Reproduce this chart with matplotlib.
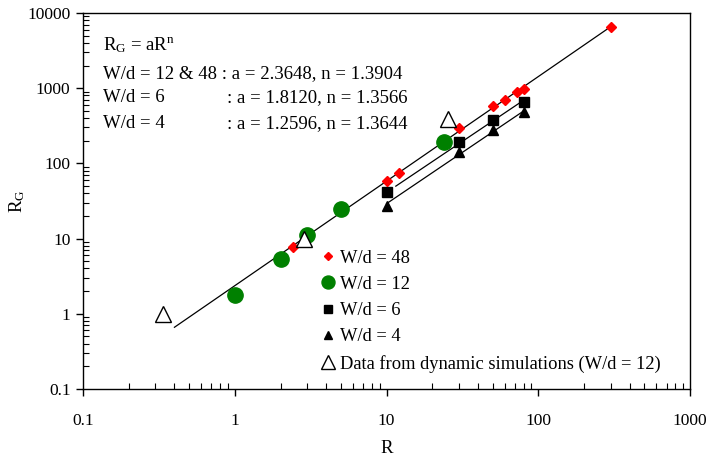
import numpy as np
import matplotlib
matplotlib.use("Agg")
import matplotlib.pyplot as plt
from matplotlib.ticker import LogLocator, FixedLocator, FixedFormatter, NullFormatter

plt.rcParams['font.family'] = ['Liberation Serif', 'DejaVu Serif']
plt.rcParams['mathtext.fontset'] = 'custom'
plt.rcParams['mathtext.rm'] = 'Liberation Serif'
plt.rcParams['mathtext.it'] = 'Liberation Serif:italic'

# ── data ──
r_48 = [2.4, 10, 12, 30, 50, 60, 72, 80, 300]
rg_48 = [7.8, 59, 75, 295, 580, 700, 900, 960, 6500]

r_12 = [1, 2, 3, 5, 24]
rg_12 = [1.8, 5.3, 11, 25, 195]

r_6 = [10, 30, 50, 80]
rg_6 = [42, 190, 380, 660]

r_4 = [10, 30, 50, 80]
rg_4 = [27.5, 140, 275, 480]

r_dyn = [0.335, 2.85, 25.5]
rg_dyn = [1.0, 9.8, 390]

# fitted power laws RG = a * R^n, with the R range each line covers
fits = {
    "12 & 48": (2.3648, 1.3904, 0.4, 300),
    "6": (1.8120, 1.3566, 11.5, 80),
    "4": (1.2596, 1.3644, 10, 80),
}

FS = 13.5

fig = plt.figure(figsize=(7.1, 4.58), dpi=100)
ax = fig.add_axes([0.117, 0.1507, 0.855, 0.821])

for key, (a, n, r0, r1) in fits.items():
    rr = np.logspace(np.log10(r0), np.log10(r1), 100)
    ax.plot(rr, a * rr ** n, color="black", lw=0.9, zorder=1)

ax.plot(r_48, rg_48, ls="none", marker="D", ms=5, color="red", mec="red",
        label="W/d = 48", zorder=4)
ax.plot(r_12, rg_12, ls="none", marker="o", ms=11, color="green", mec="green",
        label="W/d = 12", zorder=3)
ax.plot(r_6, rg_6, ls="none", marker="s", ms=7, color="black",
        label="W/d = 6", zorder=3)
ax.plot(r_4, rg_4, ls="none", marker="^", ms=7, color="black",
        label="W/d = 4", zorder=3)
ax.plot(r_dyn, rg_dyn, ls="none", marker="^", ms=12, mfc="white", mec="black",
        mew=1.0, label="Data from dynamic simulations (W/d = 12)", zorder=5)

ax.set_xscale("log")
ax.set_yscale("log")
ax.set_xlim(0.1, 1000)
ax.set_ylim(0.1, 10000)

xt = [0.1, 1, 10, 100, 1000]
yt = [0.1, 1, 10, 100, 1000, 10000]
ax.xaxis.set_major_locator(FixedLocator(xt))
ax.xaxis.set_major_formatter(FixedFormatter([str(v) if v < 1 else str(int(v)) for v in xt]))
ax.yaxis.set_major_locator(FixedLocator(yt))
ax.yaxis.set_major_formatter(FixedFormatter([str(v) if v < 1 else str(int(v)) for v in yt]))
ax.xaxis.set_minor_locator(LogLocator(base=10, subs=np.arange(2, 10)))
ax.yaxis.set_minor_locator(LogLocator(base=10, subs=np.arange(2, 10)))
ax.xaxis.set_minor_formatter(NullFormatter())
ax.yaxis.set_minor_formatter(NullFormatter())
ax.tick_params(which="major", direction="out", length=5, width=1, labelsize=12.5, pad=12)
ax.tick_params(which="minor", direction="in", length=4, width=0.8)
ax.tick_params(axis="y", which="major", pad=4)
for s in ax.spines.values():
    s.set_linewidth(1.0)

ax.set_xlabel("R", fontsize=FS, labelpad=8)
ax.set_ylabel(r"R$_{\mathrm{G}}$", fontsize=FS, labelpad=0)

# fit annotation
tx = 0.033
ax.text(tx, 0.915, r"R$_{\mathrm{G}}$ = aR$^{\mathrm{n}}$", transform=ax.transAxes,
        fontsize=FS, va="center")
ax.text(tx, 0.840, "W/d = 12 & 48 : a = 2.3648, n = 1.3904", transform=ax.transAxes,
        fontsize=FS, va="center")
ax.text(tx, 0.774, "W/d = 6", transform=ax.transAxes, fontsize=FS, va="center")
ax.text(0.237, 0.774, ": a = 1.8120, n = 1.3566", transform=ax.transAxes,
        fontsize=FS, va="center")
ax.text(tx, 0.707, "W/d = 4", transform=ax.transAxes, fontsize=FS, va="center")
ax.text(0.237, 0.707, ": a = 1.2596, n = 1.3644", transform=ax.transAxes,
        fontsize=FS, va="center")

leg = ax.legend(loc="upper left", bbox_to_anchor=(0.376, 0.39), frameon=False,
                fontsize=13.3, handlelength=1.0, handletextpad=0.15,
                labelspacing=0.5, borderaxespad=0, markerscale=0.85)

fig.savefig("out.png", dpi=100)
